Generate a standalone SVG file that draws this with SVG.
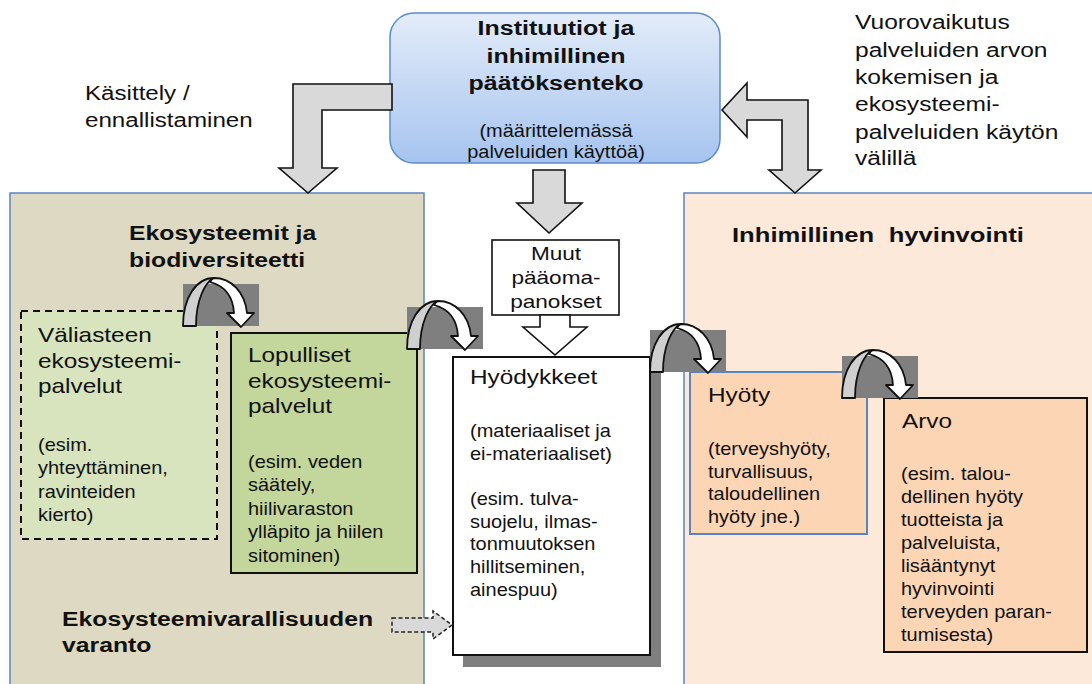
<svg xmlns="http://www.w3.org/2000/svg" width="1092" height="684" viewBox="0 0 1092 684">
<style>
text{font-family:"Liberation Sans",Arial,sans-serif;fill:#111}
.h{font-size:21px}
.b{font-size:18px}
.bold{font-size:21px;font-weight:bold}
.tbold{font-size:20px;font-weight:bold}
.m{font-size:19px}
.big{stroke:#5b84bd;stroke-width:1.5}
.arrow{fill:#d9d9d9;stroke:#111;stroke-width:1.6}
.warrow{fill:#fff;stroke:#111;stroke-width:1.6}
</style>
<defs>
<linearGradient id="gb" x1="0" y1="0" x2="0" y2="1">
<stop offset="0" stop-color="#e3ecf9"/>
<stop offset="1" stop-color="#a6c4ef"/>
</linearGradient>
<g id="curl">
<rect x="0" y="0" width="76" height="42" fill="#7f7f7f"/>
<path d="M0,42 C0,14 13,-6 31,-6 C22,-2 13,16 13,42 Z" fill="#d0d0d0" stroke="#111" stroke-width="1.8" stroke-linejoin="round"/>
<path d="M31,-6 C48,-6 62,8 64,29 L71,29 L58,43 L44,29 L51,29 C50,12 42,2 27,-2 C28,-4 29,-5 31,-6 Z" fill="#fff" stroke="#111" stroke-width="1.8" stroke-linejoin="round"/>
</g>
</defs>
<rect width="1092" height="684" fill="#fff"/>

<g id="ekosysteemit">
<rect class="big" x="10" y="193" width="414" height="500" fill="#ddd9c3"/>
<g transform="translate(129 0) scale(1.18 1)">
<text class="bold" x="0" y="240">Ekosysteemit ja</text>
<text class="bold" x="0" y="267">biodiversiteetti</text>
</g>
</g>

<g id="hyvinvointi">
<rect class="big" x="684" y="193" width="420" height="500" fill="#fde9d9"/>
<g transform="translate(732 0) scale(1.22 1)">
<text class="bold" x="0" y="242" word-spacing="6">Inhimillinen hyvinvointi</text>
</g>
</g>

<g id="instituutiot">
<rect x="390" y="13" width="330" height="150" rx="24" fill="url(#gb)" stroke="#5b8ccc" stroke-width="1.5"/>
<g transform="translate(556 0) scale(1.25 1)">
<text class="tbold" x="0" y="35" text-anchor="middle">Instituutiot ja</text>
<text class="tbold" x="0" y="63" text-anchor="middle">inhimillinen</text>
<text class="tbold" x="0" y="90" text-anchor="middle">päätöksenteko</text>
</g>
<g transform="translate(556 0) scale(1.11 1)">
<text class="b" x="0" y="137" text-anchor="middle">(määrittelemässä</text>
<text class="b" x="0" y="158" text-anchor="middle">palveluiden käyttöä)</text>
</g>
</g>

<g id="kasittely-label">
<g transform="translate(85 0) scale(1.15 1)">
<text class="h" x="0" y="100">Käsittely /</text>
<text class="h" x="0" y="127">ennallistaminen</text>
</g>
</g>

<g id="vuorovaikutus-label">
<g transform="translate(855 0) scale(1.17 1)">
<text class="h" x="0" y="29">Vuorovaikutus</text>
<text class="h" x="0" y="57">palveluiden arvon</text>
<text class="h" x="0" y="84">kokemisen ja</text>
<text class="h" x="0" y="111">ekosysteemi-</text>
<text class="h" x="0" y="139">palveluiden käytön</text>
<text class="h" x="0" y="165">välillä</text>
</g>
</g>

<g id="valiasteen">
<rect x="21" y="311" width="196" height="228" fill="#d7e4bd" stroke="#111" stroke-width="2" stroke-dasharray="7,5"/>
<g transform="translate(38 0) scale(1.16 1)">
<text class="h" x="0" y="342">Väliasteen</text>
<text class="h" x="0" y="368">ekosysteemi-</text>
<text class="h" x="0" y="393">palvelut</text>
</g>
<g transform="translate(38 0) scale(1.11 1)">
<text class="b" x="0" y="451">(esim.</text>
<text class="b" x="0" y="474">yhteyttäminen,</text>
<text class="b" x="0" y="498">ravinteiden</text>
<text class="b" x="0" y="521">kierto)</text>
</g>
</g>

<g id="lopulliset">
<rect x="231" y="333" width="186" height="240" fill="#c3d69b" stroke="#111" stroke-width="2"/>
<g transform="translate(248 0) scale(1.16 1)">
<text class="h" x="0" y="362">Lopulliset</text>
<text class="h" x="0" y="388">ekosysteemi-</text>
<text class="h" x="0" y="413">palvelut</text>
</g>
<g transform="translate(248 0) scale(1.11 1)">
<text class="b" x="0" y="468">(esim. veden</text>
<text class="b" x="0" y="491">säätely,</text>
<text class="b" x="0" y="515">hiilivaraston</text>
<text class="b" x="0" y="538">ylläpito ja hiilen</text>
<text class="b" x="0" y="562">sitominen)</text>
</g>
</g>

<g id="varanto">
<g transform="translate(62 0) scale(1.18 1)">
<text class="bold" x="0" y="626">Ekosysteemivarallisuuden</text>
<text class="bold" x="0" y="652">varanto</text>
</g>
</g>

<g id="muut">
<rect x="492" y="240" width="127" height="75" fill="#fff" stroke="#111" stroke-width="1.6"/>
<g transform="translate(556 0) scale(1.19 1)">
<text class="m" x="0" y="260" text-anchor="middle">Muut</text>
<text class="m" x="0" y="284" text-anchor="middle">pääoma-</text>
<text class="m" x="0" y="308" text-anchor="middle">panokset</text>
</g>
</g>

<g id="hyodykkeet">
<rect x="463" y="367" width="198" height="300" fill="#7f7f7f"/>
<rect x="453" y="357" width="197" height="298" fill="#fff" stroke="#111" stroke-width="2"/>
<g transform="translate(470 0) scale(1.16 1)">
<text class="h" x="0" y="384">Hyödykkeet</text>
</g>
<g transform="translate(470 0) scale(1.11 1)">
<text class="b" x="0" y="437">(materiaaliset ja</text>
<text class="b" x="0" y="460">ei-materiaaliset)</text>
<text class="b" x="0" y="505">(esim. tulva-</text>
<text class="b" x="0" y="528">suojelu, ilmas-</text>
<text class="b" x="0" y="550">tonmuutoksen</text>
<text class="b" x="0" y="573">hillitseminen,</text>
<text class="b" x="0" y="596">ainespuu)</text>
</g>
</g>

<g id="hyoty">
<rect x="690" y="372" width="177" height="162" fill="#fcd5b5" stroke="#5b84bd" stroke-width="2"/>
<g transform="translate(708 0) scale(1.16 1)">
<text class="h" x="0" y="402">Hyöty</text>
</g>
<g transform="translate(708 0) scale(1.11 1)">
<text class="b" x="0" y="455">(terveyshyöty,</text>
<text class="b" x="0" y="478">turvallisuus,</text>
<text class="b" x="0" y="500">taloudellinen</text>
<text class="b" x="0" y="523">hyöty jne.)</text>
</g>
</g>

<g id="arvo">
<rect x="884" y="398" width="203" height="254" fill="#fcd5b5" stroke="#111" stroke-width="2"/>
<g transform="translate(902 0) scale(1.16 1)">
<text class="h" x="0" y="428">Arvo</text>
</g>
<g transform="translate(901 0) scale(1.11 1)">
<text class="b" x="0" y="480">(esim. talou-</text>
<text class="b" x="0" y="503">dellinen hyöty</text>
<text class="b" x="0" y="526">tuotteista ja</text>
<text class="b" x="0" y="549">palveluista,</text>
<text class="b" x="0" y="572">lisääntynyt</text>
<text class="b" x="0" y="595">hyvinvointi</text>
<text class="b" x="0" y="618">terveyden paran-</text>
<text class="b" x="0" y="641">tumisesta)</text>
</g>
</g>

<g id="connectors">
<path class="arrow" d="M392,84 L293,84 L293,168 L279,168 L308,193 L337,168 L322,168 L322,110 L392,110 Z"/>
<path class="arrow" d="M533,170 L565,170 L565,203 L582,203 L549,233 L517,203 L533,203 Z"/>
<path class="arrow" d="M722,110 L747,83 L747,100 L808,100 L808,170 L821,170 L795,193 L769,170 L782,170 L782,120 L747,120 L747,137 Z"/>
<path class="warrow" d="M540,315 L570,315 L570,327 L587,327 L555,355 L523,327 L540,327 Z"/>
<path d="M392,618 L433,618 L433,611 L452,625 L433,639 L433,632 L392,632 Z" fill="#d9d9d9" stroke="#222" stroke-width="1.5" stroke-dasharray="4,2.5"/>
<use href="#curl" x="183" y="284"/>
<use href="#curl" x="407" y="307"/>
<use href="#curl" x="650" y="330"/>
<use href="#curl" x="842" y="356"/>
</g>
</svg>
